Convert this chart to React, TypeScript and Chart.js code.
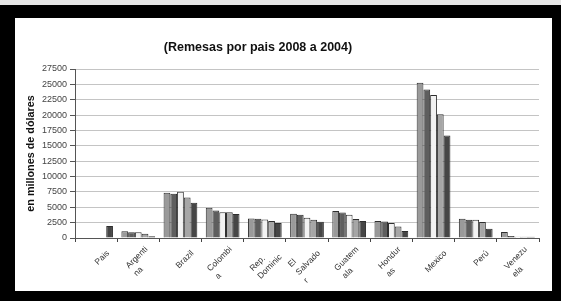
import React, { useEffect, useRef } from "react";
import { Chart, registerables } from "chart.js";

Chart.register(...registerables);

const categories: (string | string[])[] = [
  "Pais",
  ["Argenti", "na"],
  "Brazil",
  ["Colombi", "a"],
  ["Rep.", "Dominic"],
  ["El", "Salvado", "r"],
  ["Guatem", "ala"],
  ["Hondur", "as"],
  "Mexico",
  "Perú",
  ["Venezu", "ela"],
];

const serie1 = [null, 1080, 7350, 4920, 3190, 3950, 4380, 2750, 25280, 3130, 970];
const serie2 = [null, 920, 7190, 4480, 3130, 3780, 4160, 2700, 24150, 2970, 330];
const serie3 = [null, 920, 7510, 4210, 3020, 3300, 3780, 2430, 23280, 2970, 220];
const serie4 = [null, 700, 6590, 4210, 2750, 2970, 3080, 1890, 20150, 2590, 220];
const serie5 = [1950, 270, 5730, 3890, 2430, 2650, 2750, 1130, 16690, 1510, 220];

const yTicks = [0, 2500, 5000, 7500, 10000, 12500, 15000, 17500, 20000, 22500, 25000, 27500];

const titleText = "(Remesas por pais 2008 a 2004)";
const yTitle = "en millones de dólares";

const xLabelPlugin = {
  id: "xLabels",
  afterDraw(chart: any) {
    const xs = chart.scales.x;
    const ctx = chart.ctx;
    const axisY = xs.top;
    ctx.save();
    ctx.font = "8.5px Arial, 'Liberation Sans', sans-serif";
    ctx.fillStyle = "#333";
    categories.forEach((lab, i) => {
      const lines = Array.isArray(lab) ? lab : [lab];
      const W = Math.max(...lines.map((l) => ctx.measureText(l).width));
      const lh = 11;
      const H = lines.length * lh;
      const x = xs.getPixelForValue(i) + 12;
      const y = axisY + 14;
      ctx.save();
      ctx.translate(x, y);
      ctx.rotate(-Math.PI / 4);
      ctx.textAlign = "left";
      ctx.textBaseline = "middle";
      lines.forEach((l, j) => ctx.fillText(l, -W, -H / 2 + lh / 2 + j * lh));
      ctx.restore();
    });
    ctx.restore();
  },
};

export default function App() {
  const ref = useRef<HTMLCanvasElement>(null);
  useEffect(() => {
    if (!ref.current) return;
    const colors = ["#9a9a9a", "#5e5e5e", "#f2f2f2", "#a6a6a6", "#464646"];
    const series = [serie1, serie2, serie3, serie4, serie5];
    const chart = new Chart(ref.current, {
      type: "bar",
      data: {
        labels: categories.map((c) => (Array.isArray(c) ? c.join("") : c)),
        datasets: series.map((d, i) => ({
          label: "s" + (i + 1),
          data: d,
          backgroundColor: colors[i],
          borderColor: "#2e2e2e",
          borderWidth: 1,
          categoryPercentage: 0.8,
          barPercentage: 1.0,
        })),
      },
      options: {
        responsive: false,
        animation: false,
        layout: { padding: { left: 10, right: 13, top: 51, bottom: 0 } },
        plugins: {
          legend: { display: false },
          title: { display: false },
          tooltip: { enabled: false },
        },
        scales: {
          x: {
            grid: {
              display: true,
              drawOnChartArea: false,
              drawTicks: true,
              tickLength: 4,
              tickColor: "#444",
              offset: true,
            },
            border: { display: true, color: "#555", width: 1 },
            ticks: { display: false, autoSkip: false },
            afterFit: (s: any) => {
              s.height = 53;
            },
          },
          y: {
            min: 0,
            max: 27500,
            afterBuildTicks: (s: any) => {
              s.ticks = yTicks.map((v) => ({ value: v }));
            },
            grid: {
              color: "#c4c4c4",
              lineWidth: 1,
              drawTicks: true,
              tickLength: 5,
              tickColor: "#555",
            },
            border: { display: true, color: "#555", width: 1 },
            ticks: {
              color: "#444",
              font: { family: "Arial, 'Liberation Sans'", size: 9 },
              padding: 3,
              callback: (v: any) => String(v),
            },
            title: {
              display: true,
              text: yTitle,
              color: "#111",
              font: { family: "Arial, 'Liberation Sans'", size: 10.8, weight: "bold" },
              padding: 0,
            },
            afterFit: (s: any) => {
              s.width = 50;
            },
          },
        },
      },
      plugins: [xLabelPlugin],
    });
    return () => chart.destroy();
  }, []);

  return (
    <div style={{ position: "fixed", left: 0, top: 0, width: 561, height: 301, background: "#e6e6e6", overflow: "hidden" }}>
      <div style={{ position: "absolute", left: 0, top: 5, width: 561, height: 296, background: "#000" }} />
      <div style={{ position: "absolute", left: 15, top: 18, width: 537, height: 273, background: "#fff" }}>
        <canvas ref={ref} width={537} height={273} style={{ display: "block" }} />
        <div
          style={{
            position: "absolute",
            left: 0,
            top: 21,
            width: 486,
            textAlign: "center",
            fontFamily: "Arial, 'Liberation Sans', sans-serif",
            fontWeight: "bold",
            fontSize: 12.5,
            color: "#111",
            lineHeight: "16px",
          }}
        >
          {titleText}
        </div>
      </div>
    </div>
  );
}
